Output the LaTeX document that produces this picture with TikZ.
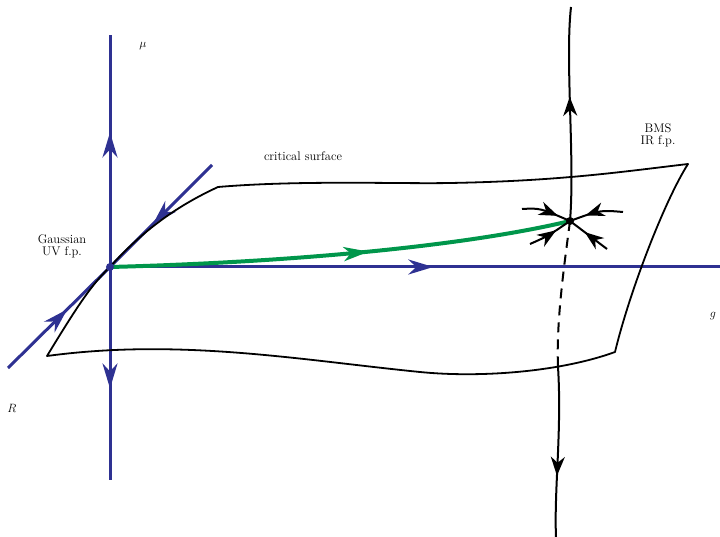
\documentclass[tikz,border=0pt]{standalone}
\usetikzlibrary{arrows.meta,decorations.markings}
\definecolor{axisblue}{RGB}{46,49,146}
\definecolor{flowgreen}{RGB}{0,150,75}
\begin{document}
\begin{tikzpicture}[x=1pt,y=-1pt,
  axisline/.style={draw=axisblue,line width=3pt},
  edgeline/.style={draw=black,line width=1.8pt,line join=round},
  flowline/.style={draw=black,line width=2pt},
  bluearr/.style={postaction={decorate,decoration={markings,mark=at position #1 with {\arrow{Stealth[length=25pt,width=15pt,inset=8pt]}}}}},
  blackarr/.style={postaction={decorate,decoration={markings,mark=at position #1 with {\arrow{Stealth[length=19pt,width=14pt,inset=6pt]}}}}},
  greenarr/.style={postaction={decorate,decoration={markings,mark=at position #1 with {\arrow{Stealth[length=25pt,width=14pt,inset=7pt]}}}}},
  lbl/.style={font=\fontsize{12.5}{12}\selectfont,align=center,inner sep=0pt},
  axlbl/.style={font=\fontsize{12.5}{12}\selectfont,inner sep=0pt}
]
\useasboundingbox (0,0) rectangle (720,537);

% coordinates
\coordinate (O) at (110,267);
\coordinate (muTop) at (110,35);
\coordinate (muBot) at (110,480);
\coordinate (gEnd) at (720,267);
\coordinate (Rlow) at (8,368);
\coordinate (Rhigh) at (212,165);
\coordinate (IR) at (570,221);
\coordinate (cross) at (558,367);
\coordinate (flowTop) at (571,7);
\coordinate (flowBot) at (556,537);
\coordinate (ul) at (522,209);
\coordinate (ur) at (623,212);
\coordinate (ll) at (530,244);
\coordinate (lr) at (607,249);

% axes
\draw[axisline,bluearr=0.58] (O) -- (muTop);
\draw[axisline,bluearr=0.57] (O) -- (muBot);
\draw[axisline,bluearr=0.53] (O) -- (gEnd);
\draw[axisline,bluearr=0.58] (Rlow) -- (O);
\draw[axisline,bluearr=0.58] (Rhigh) -- (O);

% critical surface outline
\draw[edgeline] (47,356) .. controls (78,305) and (92,284) .. (O)
  .. controls (150,222) and (190,200) .. (218,187)
  .. controls (300,180) and (400,184) .. (450,183)
  .. controls (560,181) and (620,172) .. (688,164)
  .. controls (665,200) and (630,290) .. (615,352)
  .. controls (560,372) and (480,378) .. (420,372)
  .. controls (300,360) and (180,338) .. cycle;

% green flow
\draw[draw=flowgreen,line width=4pt,greenarr=0.56] (O) .. controls (300,262) and (470,245) .. (IR);

% flow through IR fixed point
\draw[flowline,blackarr=0.58] (IR) .. controls (575,160) and (565,60) .. (flowTop);
\draw[flowline,dash pattern=on 10pt off 7pt] (IR) .. controls (565,260) and (556,320) .. (cross);
\draw[flowline,blackarr=0.64] (cross) .. controls (562,430) and (554,490) .. (flowBot);

\draw[flowline,blackarr=0.74] (ul) .. controls (540,208) .. (IR);
\draw[flowline,blackarr=0.7] (ur) .. controls (600,210) .. (IR);
\draw[flowline,blackarr=0.64] (ll) .. controls (548,236) .. (IR);
\draw[flowline,blackarr=0.6] (lr) -- (IR);

% fixed points
\fill[axisblue] (O) circle (4pt);
\fill[black] (IR) circle (4pt);

% labels
\node[axlbl] (mulbl) at (143,46) {$\mu$};
\node[axlbl] (Rlbl) at (12,408) {$R$};
\node[axlbl] (glbl) at (713,316) {$g$};
\node[lbl] (crit) at (303,156) {critical surface};
\node[lbl] (gauss) at (62,246) {Gaussian\\UV f.p.};
\node[lbl] (bms) at (658,135) {BMS\\IR f.p.};
\end{tikzpicture}
\end{document}
